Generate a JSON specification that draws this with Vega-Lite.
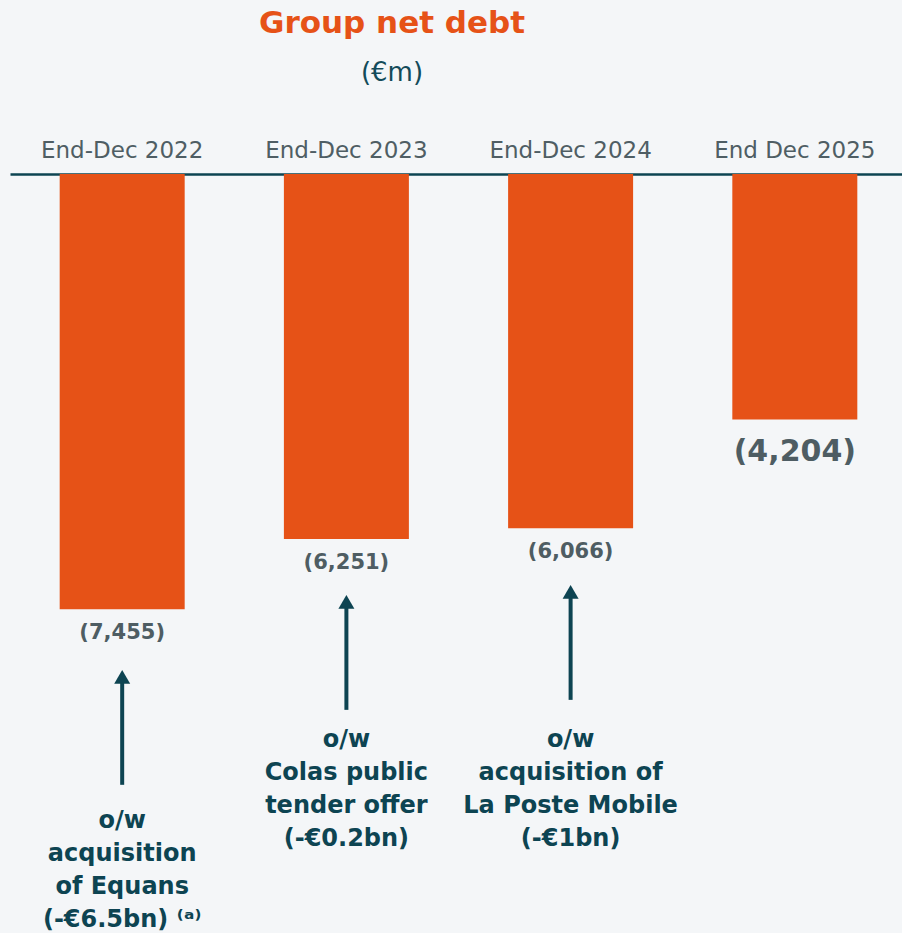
{
  "$schema": "https://vega.github.io/schema/vega-lite/v6.json",
  "autosize": "none",
  "padding": {"left": 0, "right": 0, "top": 174, "bottom": 0},
  "width": 902,
  "height": 759,
  "background": "#f4f6f8",
  "config": {"view": {"stroke": null}},
  "title": {
    "text": "Group net debt",
    "subtitle": "(€m)",
    "anchor": "middle",
    "dx": -59,
    "offset": 52,
    "font": "DejaVu Sans",
    "fontSize": 31,
    "fontWeight": "bold",
    "color": "#e65217",
    "subtitleFont": "DejaVu Sans",
    "subtitleFontSize": 26,
    "subtitleColor": "#134b5a",
    "subtitlePadding": 20
  },
  "datasets": {
    "debt": [
      {"period": "End-Dec 2022", "debt": 7455, "label": "(7,455)"},
      {"period": "End-Dec 2023", "debt": 6251, "label": "(6,251)"},
      {"period": "End-Dec 2024", "debt": 6066, "label": "(6,066)"},
      {"period": "End Dec 2025", "debt": 4204, "label": "(4,204)"}
    ],
    "notes": [
      {"period": "End-Dec 2022", "head": 8613, "tail": 10462, "textAt": 11200, "note": "o/w\nacquisition\nof Equans\n(-€6.5bn) ⁽ᵃ⁾"},
      {"period": "End-Dec 2023", "head": 7329, "tail": 9178, "textAt": 9812, "note": "o/w\nColas public\ntender offer\n(-€0.2bn)"},
      {"period": "End-Dec 2024", "head": 7158, "tail": 9007, "textAt": 9812, "note": "o/w\nacquisition of\nLa Poste Mobile\n(-€1bn)"}
    ]
  },
  "encoding": {
    "x": {
      "field": "period",
      "type": "nominal",
      "sort": null,
      "scale": {"domain": ["End-Dec 2022", "End-Dec 2023", "End-Dec 2024", "End Dec 2025"], "range": [10, 907], "paddingInner": 0.4425, "paddingOuter": 0.2216},
      "axis": {
        "orient": "top",
        "title": null,
        "labelAngle": 0,
        "ticks": false,
        "labelPadding": 17,
        "labelBaseline": "alphabetic",
        "labelFont": "DejaVu Sans",
        "labelFontSize": 23,
        "labelColor": "#4f5e64",
        "domainColor": "#0d4452",
        "domainWidth": 2.5,
        "grid": false
      }
    }
  },
  "layer": [
    {
      "data": {"name": "debt"},
      "mark": {"type": "bar", "color": "#e65217"},
      "encoding": {
        "y": {"field": "debt", "type": "quantitative", "scale": {"domain": [0, 13000], "reverse": true, "nice": false, "zero": true}, "axis": null}
      }
    },
    {
      "data": {"name": "debt"},
      "transform": [{"filter": "datum.period != 'End Dec 2025'"}],
      "mark": {"type": "text", "baseline": "middle", "dy": 24, "font": "DejaVu Sans", "fontSize": 21, "fontWeight": "bold", "color": "#4e5d63"},
      "encoding": {
        "y": {"field": "debt", "type": "quantitative"},
        "text": {"field": "label"}
      }
    },
    {
      "data": {"name": "debt"},
      "transform": [{"filter": "datum.period == 'End Dec 2025'"}],
      "mark": {"type": "text", "baseline": "middle", "dy": 33, "font": "DejaVu Sans", "fontSize": 30, "fontWeight": "bold", "color": "#4e5d63"},
      "encoding": {
        "y": {"field": "debt", "type": "quantitative"},
        "text": {"field": "label"}
      }
    },
    {
      "data": {"name": "notes"},
      "mark": {"type": "rule", "color": "#0d4452", "strokeWidth": 4},
      "encoding": {
        "y": {"field": "head", "type": "quantitative"},
        "y2": {"field": "tail"}
      }
    },
    {
      "data": {"name": "notes"},
      "mark": {"type": "point", "shape": "triangle-up", "filled": true, "opacity": 1, "size": 256, "color": "#0d4452"},
      "encoding": {
        "y": {"field": "head", "type": "quantitative"}
      }
    },
    {
      "data": {"name": "notes"},
      "mark": {"type": "text", "baseline": "alphabetic", "lineBreak": "\n", "lineHeight": 33, "font": "DejaVu Sans", "fontSize": 24, "fontWeight": "bold", "color": "#0d4452"},
      "encoding": {
        "y": {"field": "textAt", "type": "quantitative"},
        "text": {"field": "note"}
      }
    }
  ]
}
